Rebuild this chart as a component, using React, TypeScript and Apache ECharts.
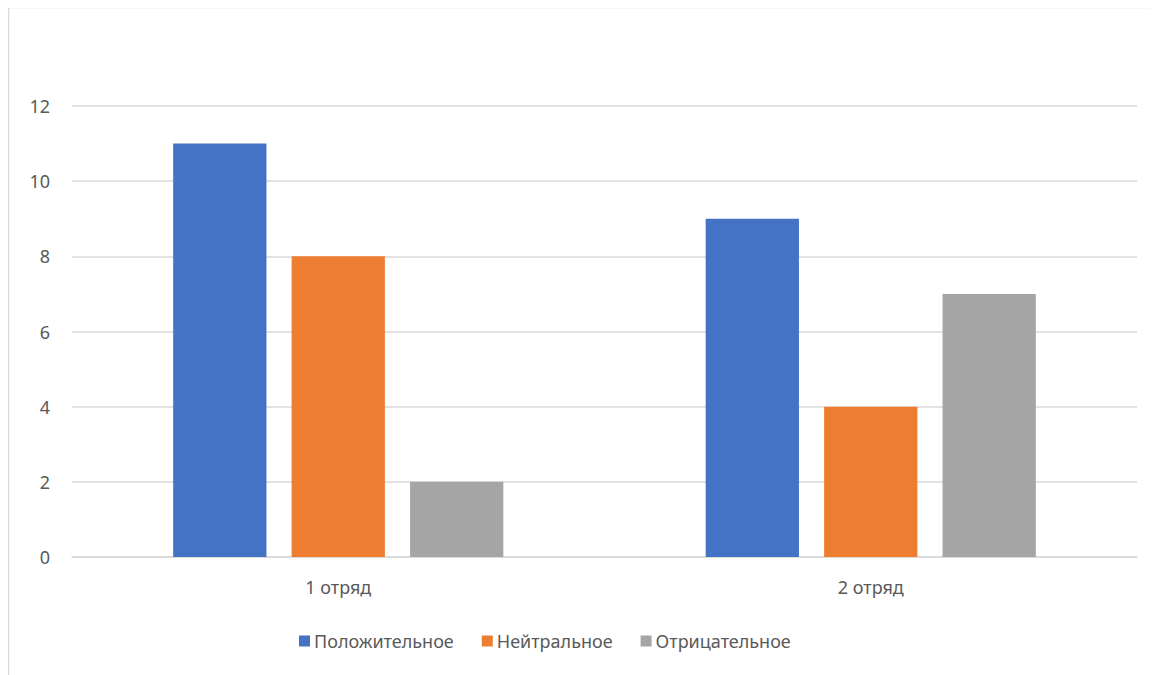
import React, { useEffect, useRef } from "react";
import * as echarts from "echarts";

const categories = ["1 отряд", "2 отряд"];
const seriesNames = ["Положительное", "Нейтральное", "Отрицательное"];
const positiveValues = [11, 9];
const neutralValues = [8, 4];
const negativeValues = [2, 7];
const seriesColors = ["#4472C4", "#ED7D31", "#A5A5A5"];

export default function App() {
  const ref = useRef<HTMLDivElement>(null);
  useEffect(() => {
    if (!ref.current) return;
    const chart = echarts.init(ref.current, null, { renderer: "svg" });
    const font = "'Noto Sans', 'Open Sans', sans-serif";
    const values = [positiveValues, neutralValues, negativeValues];
    chart.setOption({
      animation: false,
      textStyle: { fontFamily: font },
      graphic: [
        {
          type: "rect",
          shape: { x: 0.5, y: 0.5, width: 1400, height: 1000 },
          style: { fill: "none", stroke: "#D9D9D9", lineWidth: 1.5 },
          silent: true,
        },
      ],
      grid: { left: 64, right: 21, top: 99, bottom: 118 },
      legend: {
        bottom: 20,
        left: 286,
        itemWidth: 11,
        itemHeight: 11,
        itemGap: 28,
        icon: "rect",
        textStyle: { color: "#595959", fontSize: 18, fontFamily: font, padding: [0, 0, 0, -1] },
        data: seriesNames,
      },
      xAxis: {
        type: "category",
        data: categories,
        axisLine: { show: true, lineStyle: { color: "#D9D9D9", width: 1.5 } },
        axisTick: { show: false },
        axisLabel: { color: "#595959", fontSize: 18, margin: 21, fontFamily: font },
      },
      yAxis: {
        type: "value",
        min: 0,
        max: 12,
        interval: 2,
        axisLine: { show: false },
        axisTick: { show: false },
        splitLine: { lineStyle: { color: "#D9D9D9", width: 1.5 } },
        axisLabel: { color: "#595959", fontSize: 18, margin: 22, fontFamily: font },
      },
      series: seriesNames.map((name, i) => ({
        name,
        type: "bar",
        data: values[i],
        itemStyle: { color: seriesColors[i] },
        barGap: "27%",
        barCategoryGap: "38%",
      })),
    });
    return () => chart.dispose();
  }, []);
  return <div ref={ref} style={{ width: 1150, height: 668, marginTop: -1 }} />;
}
